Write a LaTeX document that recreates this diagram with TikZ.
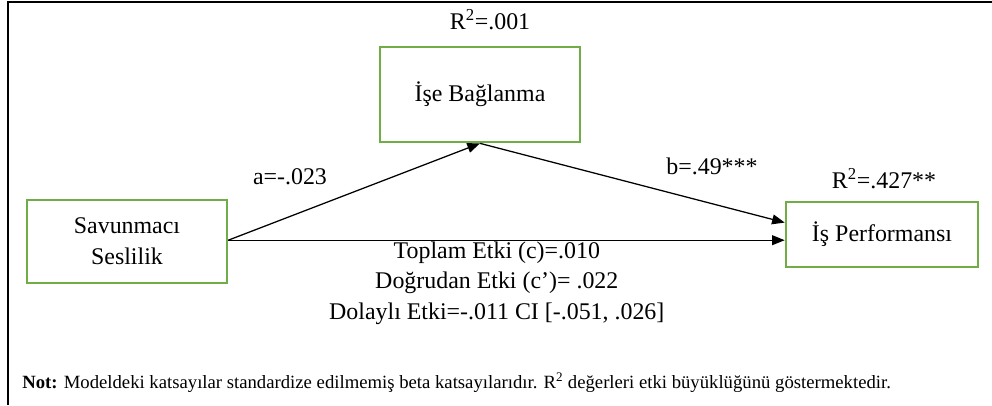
\documentclass[tikz,border=0pt]{standalone}
\usepackage{fontspec}
\setmainfont{Liberation Serif}
\usepackage{tikz}
\usetikzlibrary{arrows.meta,positioning,calc}
\usepackage{xcolor}
\definecolor{boxgreen}{RGB}{112,173,71}

\begin{document}
\begin{tikzpicture}[
    var/.style={rectangle, draw=boxgreen, line width=1.8pt, fill=white,
                align=center, font=\fontsize{17}{21}\selectfont},
    path/.style={-{Triangle[length=9pt, width=7pt]}, line width=0.9pt},
    coef/.style={font=\fontsize{17}{20}\selectfont},
]
\useasboundingbox (0,0) rectangle (24.8,10.125);

% frame (top and left only)
\draw[line width=1.5pt] (24.8,10.075) -- (0.2,10.075) -- (0.2,0);

% variables
\node[var, minimum width=5cm, minimum height=2.375cm] (ise) at (12.0,7.76) {İşe Bağlanma};
\node[var, minimum width=5cm, minimum height=2.075cm] (savun) at (3.175,4.09) {Savunmacı\\[1pt]Seslilik};
\node[var, minimum width=4.8cm, minimum height=1.625cm] (perf) at (22.05,4.26) {İş Performansı};

% R2 values
\node[coef] (r2ise) at (12.25,9.625) {R\textsuperscript{2}=.001};
\node[coef] (r2perf) at (22.1,5.65) {R\textsuperscript{2}=.427**};

% paths
\coordinate (src) at ($(savun.east)+(0,0.03)$);
\draw[path] (src) -- (ise.south);
\draw[path] (ise.south) -- ($(perf.west)+(0,0.3)$);
\draw[path] (src) -- (src -| perf.west);

\node[coef] (alab) at (7.25,5.7) {a=-.023};
\node[coef] (blab) at (17.8,5.975) {b=.49***};

% effects
\node[coef, align=center, font=\fontsize{17}{21.8}\selectfont] (effects) at (12.42,3.05)
    {Toplam Etki (c)=.010\\Doğrudan Etki (c’)= .022\\Dolaylı Etki=-.011 CI [-.051, .026]};

% note
\node[anchor=west, font=\fontsize{13.3}{15}\selectfont, inner sep=0pt] (note) at (0.55,0.55)
    {\textbf{Not:} Modeldeki katsayılar standardize edilmemiş beta katsayılarıdır. R\textsuperscript{2} değerleri etki büyüklüğünü göstermektedir.};

\end{tikzpicture}
\end{document}
